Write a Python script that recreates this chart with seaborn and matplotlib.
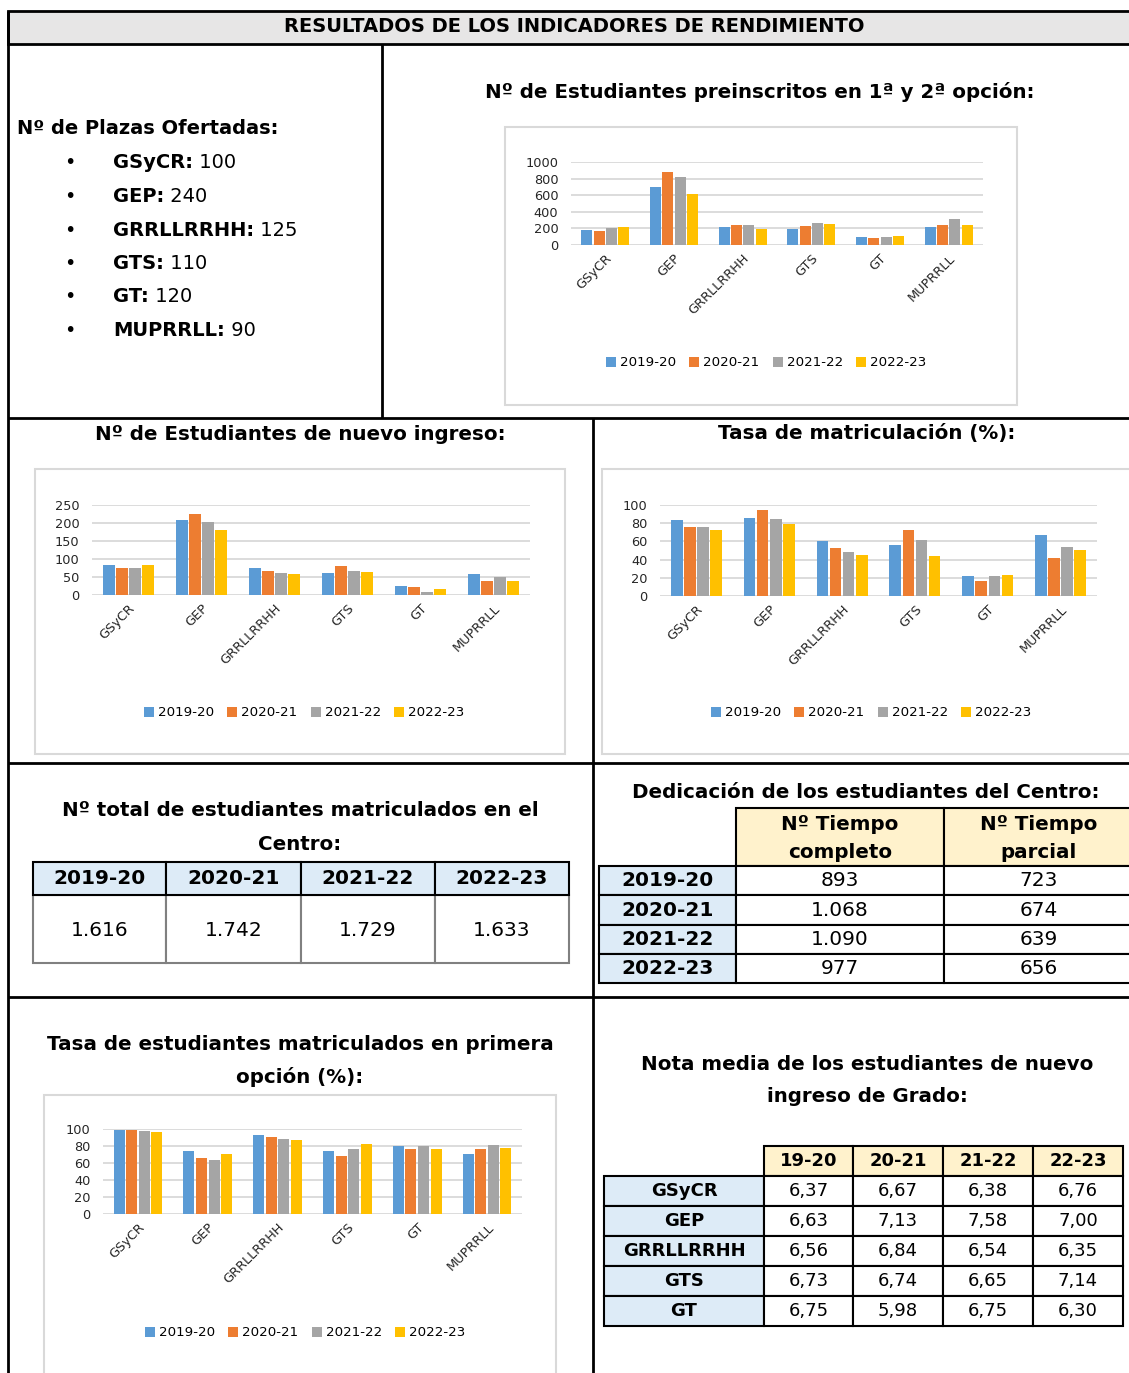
import matplotlib
matplotlib.use("Agg")
import matplotlib.pyplot as plt
from matplotlib.patches import Rectangle
import seaborn as sns
import pandas as pd

plt.rcParams['font.family'] = ['DejaVu Sans']

# ---------------- data ----------------
categories = ["GSyCR", "GEP", "GRRLLRRHH", "GTS", "GT", "MUPRRLL"]
years = ["2019-20", "2020-21", "2021-22", "2022-23"]

plazas_labels = ["GSyCR:", "GEP:", "GRRLLRRHH:", "GTS:", "GT:", "MUPRRLL:"]
plazas_values = [100, 240, 125, 110, 120, 90]

preinscritos_1920 = [180, 696, 220, 192, 96, 220]
preinscritos_2021 = [172, 884, 236, 228, 88, 240]
preinscritos_2122 = [204, 820, 244, 268, 96, 312]
preinscritos_2223 = [216, 620, 196, 252, 108, 240]

nuevo_1920 = [82, 207, 76, 61, 25, 59]
nuevo_2021 = [76, 226, 67, 80, 21, 38]
nuevo_2122 = [76, 204, 62, 66, 9, 49]
nuevo_2223 = [84, 181, 59, 64, 18, 38]

tasa_mat_1920 = [83, 86, 60, 55.5, 21.5, 67]
tasa_mat_2021 = [76, 94, 52.6, 72.6, 17, 42]
tasa_mat_2122 = [76, 84.5, 48, 61, 21.5, 54]
tasa_mat_2223 = [72, 79, 45.5, 44, 23.3, 51]

primera_1920 = [98.4, 74.5, 93, 73.7, 80, 71]
primera_2021 = [98.4, 66, 91, 68, 76, 76]
primera_2122 = [97.6, 63, 88.6, 77, 80, 81.6]
primera_2223 = [96, 71, 86.7, 82.7, 77, 78]

total_matriculados = ["1.616", "1.742", "1.729", "1.633"]

dedic_headers = [("Nº Tiempo", "completo"), ("Nº Tiempo", "parcial")]
dedic_completo = ["893", "1.068", "1.090", "977"]
dedic_parcial = ["723", "674", "639", "656"]

nota_years = ["19-20", "20-21", "21-22", "22-23"]
nota_grados = ["GSyCR", "GEP", "GRRLLRRHH", "GTS", "GT"]
nota_valores = [
    ["6,37", "6,67", "6,38", "6,76"],
    ["6,63", "7,13", "7,58", "7,00"],
    ["6,56", "6,84", "6,54", "6,35"],
    ["6,73", "6,74", "6,65", "7,14"],
    ["6,75", "5,98", "6,75", "6,30"],
]

palette = ["#5B9BD5", "#ED7D31", "#A5A5A5", "#FFC000"]
LIGHT_BLUE = "#DDEBF7"
LIGHT_YELLOW = "#FFF2CC"
HEADER_GRAY = "#E7E6E6"
GRID = "#D9D9D9"
TITLE = 14.3
TABLE = 14.5

W, H = 1129, 1373
fig = plt.figure(figsize=(W / 100, H / 100), dpi=100)
fig.patch.set_facecolor("white")

bg = fig.add_axes([0, 0, 1, 1])
bg.set_xlim(0, W)
bg.set_ylim(H, 0)
bg.axis("off")


def hline(y, x0, x1, lw=2, color="black"):
    bg.plot([x0, x1], [y, y], color=color, lw=lw, solid_capstyle="butt")


def vline(x, y0, y1, lw=2, color="black"):
    bg.plot([x, x], [y0, y1], color=color, lw=lw, solid_capstyle="butt")


def rect(x0, y0, x1, y1, fc="none", ec="black", lw=1.5, z=1):
    bg.add_patch(Rectangle((x0, y0), x1 - x0, y1 - y0, facecolor=fc,
                           edgecolor=ec, lw=lw, zorder=z))


def txt(x, y, s, size=13, weight="normal", ha="center", color="black"):
    return bg.text(x, y, s, ha=ha, va="center", fontsize=size,
                   fontweight=weight, color=color, zorder=5)


# ---------------- frame ----------------
rect(8, 11, 1140, 44, fc=HEADER_GRAY, ec="black", lw=2)
txt(574, 27, "RESULTADOS DE LOS INDICADORES DE RENDIMIENTO", size=14, weight="bold")
vline(8, 11, H)
vline(382, 44, 418)
hline(418, 8, W)
vline(593, 418, H)
hline(763, 8, W)
hline(997, 8, W)

# ---------------- plazas ofertadas ----------------
txt(17, 129, "Nº de Plazas Ofertadas:", size=14, weight="bold", ha="left")
renderer = fig.canvas.get_renderer()
for i, (lab, val) in enumerate(zip(plazas_labels, plazas_values)):
    y = 163 + i * 33.5
    txt(70, y, "•", size=14, ha="center")
    t = txt(113, y, lab, size=14, weight="bold", ha="left")
    bb = t.get_window_extent(renderer)
    txt(bb.x1, y, " " + str(val), size=14, ha="left")


# ---------------- charts ----------------
def px_axes(x0, y0, x1, y1):
    return fig.add_axes([x0 / W, 1 - y1 / H, (x1 - x0) / W, (y1 - y0) / H])


def bar_chart(series, box, area, ymax, ystep, legend_xy):
    rect(*box, fc="white", ec=GRID, lw=1.5, z=0)
    ax = px_axes(*area)
    df = pd.DataFrame({
        "cat": categories * 4,
        "val": [v for s in series for v in s],
        "year": [y for y in years for _ in categories],
    })
    sns.barplot(data=df, x="cat", y="val", hue="year", palette=palette,
                width=0.72, gap=0.12, ax=ax, saturation=1, errorbar=None)
    ax.set_facecolor("none")
    ax.set_ylim(0, ymax)
    ax.set_yticks(list(range(0, ymax + 1, ystep)))
    ax.set_xlabel("")
    ax.set_ylabel("")
    for sp in ax.spines.values():
        sp.set_visible(False)
    ax.grid(axis="y", color=GRID, lw=1.3)
    ax.set_axisbelow(True)
    ax.tick_params(axis="y", length=0, pad=9, labelsize=9.3, labelcolor="#262626")
    ax.tick_params(axis="x", length=0, pad=5, labelsize=9.3, labelcolor="#262626")
    for lab in ax.get_xticklabels():
        lab.set_rotation(45)
        lab.set_ha("right")
        lab.set_rotation_mode("anchor")
    handles, labels = ax.get_legend_handles_labels()
    ax.legend(handles, labels, ncol=4, loc="center",
              bbox_to_anchor=(legend_xy[0] / W, 1 - legend_xy[1] / H),
              bbox_transform=fig.transFigure, frameon=False, fontsize=9.6,
              handlelength=0.75, handleheight=0.75, handletextpad=0.3,
              columnspacing=1.0)
    return ax


txt(760, 92, "Nº de Estudiantes preinscritos en 1ª y 2ª opción:", size=TITLE, weight="bold")
bar_chart([preinscritos_1920, preinscritos_2021, preinscritos_2122, preinscritos_2223],
          (505, 127, 1017, 405), (571, 162, 983, 245), 1000, 200, (766, 363))

txt(300, 434, "Nº de Estudiantes de nuevo ingreso:", size=TITLE, weight="bold")
bar_chart([nuevo_1920, nuevo_2021, nuevo_2122, nuevo_2223],
          (35, 469, 565, 754), (92, 505, 530, 595), 250, 50, (304, 713))

txt(867, 434, "Tasa de matriculación (%):", size=TITLE, weight="bold")
bar_chart([tasa_mat_1920, tasa_mat_2021, tasa_mat_2122, tasa_mat_2223],
          (602, 469, 1135, 754), (660, 505, 1097, 596), 100, 20, (871, 713))

txt(300, 1045, "Tasa de estudiantes matriculados en primera", size=TITLE, weight="bold")
txt(300, 1077, "opción (%):", size=TITLE, weight="bold")
bar_chart([primera_1920, primera_2021, primera_2122, primera_2223],
          (44, 1095, 556, 1380), (103, 1129, 522, 1214), 100, 20, (305, 1333))

# ---------------- total matriculados ----------------
txt(300, 811, "Nº total de estudiantes matriculados en el", size=TITLE, weight="bold")
txt(300, 844, "Centro:", size=TITLE, weight="bold")
cols = [33, 166, 301, 435, 569]
for i, (yr, val) in enumerate(zip(years, total_matriculados)):
    x0, x1 = cols[i], cols[i + 1]
    rect(x0, 895, x1, 963, fc="white", ec="#808080", lw=1.5)
    rect(x0, 862, x1, 895, fc=LIGHT_BLUE, ec="black", lw=1.5)
    txt((x0 + x1) / 2, 878, yr, size=TABLE, weight="bold")
    txt((x0 + x1) / 2, 930, val, size=TABLE)

# ---------------- dedicación ----------------
txt(866, 792, "Dedicación de los estudiantes del Centro:", size=TITLE, weight="bold")
dcols = [599, 736, 944, 1140]
for j, (l1, l2) in enumerate(dedic_headers):
    x0, x1 = dcols[j + 1], dcols[j + 2]
    rect(x0, 808, x1, 866, fc=LIGHT_YELLOW, ec="black", lw=1.5)
    cx = (x0 + x1) / 2 if j == 0 else 1039
    txt(cx, 825, l1, size=TITLE, weight="bold")
    txt(cx, 852, l2, size=TITLE, weight="bold")
drows = [866, 895, 925, 954, 983]
for i, yr in enumerate(years):
    y0, y1 = drows[i], drows[i + 1]
    rect(dcols[0], y0, dcols[1], y1, fc=LIGHT_BLUE, ec="black", lw=1.5)
    txt((dcols[0] + dcols[1]) / 2, (y0 + y1) / 2, yr, size=TABLE, weight="bold")
    rect(dcols[1], y0, dcols[2], y1, fc="white", ec="black", lw=1.5)
    txt((dcols[1] + dcols[2]) / 2, (y0 + y1) / 2, dedic_completo[i], size=TABLE)
    rect(dcols[2], y0, dcols[3], y1, fc="white", ec="black", lw=1.5)
    txt(1039, (y0 + y1) / 2, dedic_parcial[i], size=TABLE)

# ---------------- nota media ----------------
txt(867, 1065, "Nota media de los estudiantes de nuevo", size=TITLE, weight="bold")
txt(867, 1097, "ingreso de Grado:", size=TITLE, weight="bold")
ncols = [604, 764, 853, 943, 1033, 1123]
nrows = [1146, 1176, 1206, 1236, 1266, 1296, 1326]
for j, yr in enumerate(nota_years):
    x0, x1 = ncols[j + 1], ncols[j + 2]
    rect(x0, nrows[0], x1, nrows[1], fc=LIGHT_YELLOW, ec="black", lw=1.5)
    txt((x0 + x1) / 2, (nrows[0] + nrows[1]) / 2, yr, size=13, weight="bold")
for i, g in enumerate(nota_grados):
    y0, y1 = nrows[i + 1], nrows[i + 2]
    rect(ncols[0], y0, ncols[1], y1, fc=LIGHT_BLUE, ec="black", lw=1.5)
    txt((ncols[0] + ncols[1]) / 2, (y0 + y1) / 2, g, size=13, weight="bold")
    for j in range(4):
        x0, x1 = ncols[j + 1], ncols[j + 2]
        rect(x0, y0, x1, y1, fc="white", ec="black", lw=1.5)
        txt((x0 + x1) / 2, (y0 + y1) / 2, nota_valores[i][j], size=13)

fig.savefig("out.png", dpi=100)
